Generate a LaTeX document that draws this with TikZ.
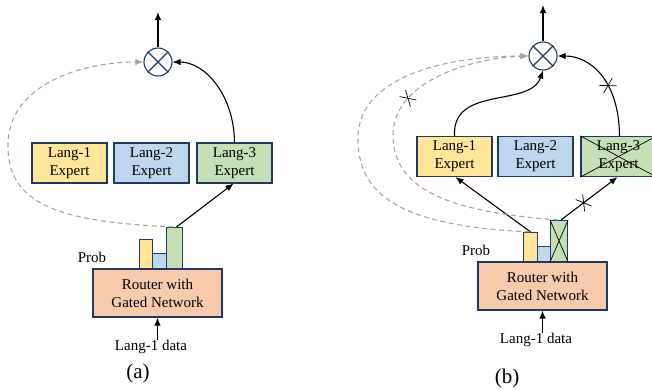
\documentclass[tikz,border=0pt]{standalone}
\usepackage{fontspec}
\setmainfont{Liberation Serif}
\usetikzlibrary{arrows.meta,shapes.misc}
\definecolor{yel}{HTML}{FFE699}
\definecolor{blu}{HTML}{BDD7EE}
\definecolor{grn}{HTML}{C5E0B4}
\definecolor{org}{HTML}{F8CBAD}
\definecolor{bord}{HTML}{203864}
\definecolor{dashc}{HTML}{A6A6A6}
\tikzset{
  expert/.style={draw=bord, line width=1.2pt, minimum width=75pt, minimum height=40pt, inner sep=0pt, align=center, font=\fontsize{15}{18}\selectfont},
  router/.style={draw=bord, line width=1.2pt, fill=org, minimum width=129pt, minimum height=48pt, inner sep=0pt, align=center, font=\fontsize{15}{18}\selectfont},
  bar/.style={draw=bord, line width=1.1pt, inner sep=0pt, anchor=south west},
  mult/.style={draw=bord, circle, line width=1.1pt, minimum size=28pt, inner sep=0pt},
  lbl/.style={font=\fontsize{15}{18}\selectfont, inner sep=0pt},
  captxt/.style={font=\fontsize{21}{24}\selectfont, inner sep=0pt},
  arr/.style={line width=1.1pt, -{Latex[length=8pt,width=6.5pt]}},
  garr/.style={draw=dashc, line width=1.1pt, dash pattern=on 5pt off 3.5pt, -{Latex[length=8pt,width=6.5pt]}},
  xmark/.style={draw, solid, cross out, sloped, minimum width=8pt, minimum height=14pt, inner sep=0pt, line width=0.7pt},
}
\begin{document}
\begin{tikzpicture}[x=1pt,y=-1pt]
\useasboundingbox (0,0) rectangle (652,389);
% ================= panel (a)
\node[mult] (Ca) at (158,62) {};
\draw[bord, line width=1.1pt] (Ca.north west) -- (Ca.south east) (Ca.north east) -- (Ca.south west);
\coordinate (outa) at (158,12);
\draw[arr] (Ca.north) -- (outa);
\node[expert, fill=yel] (E1a) at (69.5,163) {Lang-1\\Expert};
\node[expert, fill=blu] (E2a) at (151.5,163) {Lang-2\\Expert};
\node[expert, fill=grn] (E3a) at (234.5,163) {Lang-3\\Expert};
\node[router] (Ra) at (157.5,293) {Router with\\Gated Network};
\node[bar, fill=yel, minimum width=13pt, minimum height=29pt] (Ya) at (139,269) {};
\node[bar, fill=blu, minimum width=14pt, minimum height=15pt] (Ba) at (152,269) {};
\node[bar, fill=grn, minimum width=16pt, minimum height=41pt] (Ga) at (166,269) {};
\draw[arr] (E3a.north) .. controls (234,95) and (205,62) .. (Ca.east);
\draw[arr] ([xshift=2pt]Ga.north) -- ([xshift=-1pt]E3a.south);
\draw[garr] ([xshift=-1pt]Ga.north) .. controls (60,222) and (6,205) .. (8,143) .. controls (10,85) and (80,62) .. (Ca.west);
\node[lbl] (Pa) at (92,257) {Prob};
\node[lbl, anchor=north] (Da) at (151,340) {Lang-1 data};
\draw[arr] (Da.north -| Ra.south) -- (Ra.south);
\node[captxt] (capa) at (138,373) {(a)};
% ================= panel (b)
\node[mult] (Cb) at (543,56) {};
\draw[bord, line width=1.1pt] (Cb.north west) -- (Cb.south east) (Cb.north east) -- (Cb.south west);
\coordinate (outb) at (543,5);
\draw[arr] (Cb.north) -- (outb);
\node[expert, fill=yel] (E1b) at (454.5,156.5) {Lang-1\\Expert};
\node[expert, fill=blu] (E2b) at (535.5,156.5) {Lang-2\\Expert};
\node[expert, fill=grn] (E3b) at (618.5,156.5) {Lang-3\\Expert};
\draw[line width=0.7pt] (E3b.north west) -- (E3b.south east) (E3b.south west) -- (E3b.north east);
\node[router] (Rb) at (542.5,286) {Router with\\Gated Network};
\node[bar, fill=yel, minimum width=14pt, minimum height=29pt] (Yb) at (523,262) {};
\node[bar, fill=blu, minimum width=13pt, minimum height=15pt] (Bb) at (537,262) {};
\node[bar, fill=grn, minimum width=17pt, minimum height=41pt] (Gb) at (550,262) {};
\draw[line width=0.7pt] (Gb.north west) -- (Gb.south east) (Gb.south west) -- (Gb.north east);
\draw[arr] (E1b.north) .. controls (452,85) and (530,108) .. (Cb.south);
\draw[arr] ([xshift=1pt]E3b.north) .. controls (619,80) and (590,56) .. (Cb.east) node[xmark, pos=0.38] (k1) {};
\draw[arr] (Yb.north) -- ([xshift=1pt]E1b.south);
\draw[arr] ([xshift=2pt]Gb.north) -- ([xshift=-1pt]E3b.south) node[xmark, pos=0.4] (k2) {};
\draw[garr] ([xshift=-1pt]Yb.north) .. controls (400,226) and (357,195) .. (358,137) .. controls (359,75) and (450,56) .. (Cb.west);
\draw[garr] ([xshift=-1pt]Gb.north) .. controls (450,212) and (393,190) .. (393,135) .. controls (393,82) and (470,58) .. (Cb.west) node[xmark, draw=black, pos=0.27] (k3) {};
\node[lbl] (Pb) at (476,250) {Prob};
\node[lbl, anchor=north] (Db) at (536,333) {Lang-1 data};
\draw[arr] (Db.north -| Rb.south) -- (Rb.south);
\node[captxt] (capb) at (507,378) {(b)};
\end{tikzpicture}
\end{document}
